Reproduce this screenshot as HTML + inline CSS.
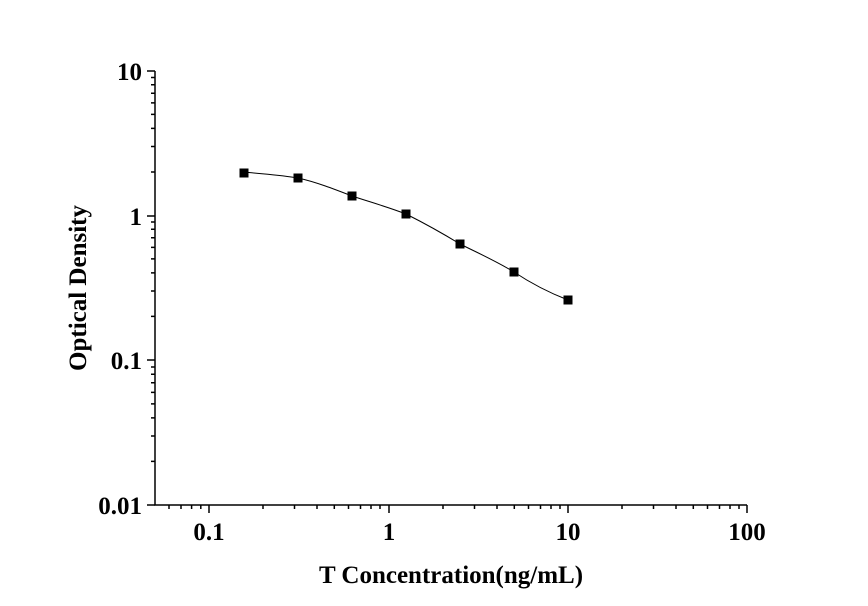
<!DOCTYPE html>
<html><head><meta charset="utf-8"><style>body{margin:0;background:#fff}svg{display:block}text{font-family:"Liberation Serif",serif;font-weight:bold;fill:#000}</style></head><body>
<svg width="868" height="606" viewBox="0 0 868 606">
<g stroke="#000" stroke-width="1.5" fill="none">
<path d="M155,71V505H747"/>
<path d="M155,71h-8M155,216h-8M155,360h-8M155,505h-8"/>
<path d="M155,461.4h-4M155,436h-4M155,417.9h-4M155,403.9h-4M155,392.4h-4M155,382.7h-4M155,374.3h-4M155,367h-4
M155,316.4h-4M155,291h-4M155,272.9h-4M155,258.9h-4M155,247.4h-4M155,237.7h-4M155,229.3h-4M155,222h-4
M155,172h-4M155,146.5h-4M155,128.4h-4M155,114.4h-4M155,102.9h-4M155,93.2h-4M155,84.8h-4M155,77.5h-4"/>
<path d="M209,505v8M389,505v8M568,505v8M747,505v8"/>
<path d="M169,505v4M181,505v4M191.6,505v4M200.8,505v4
M263,505v4M294.5,505v4M317,505v4M334.3,505v4M348.5,505v4M360.5,505v4M371,505v4M380,505v4
M443,505v4M474.5,505v4M497,505v4M514.3,505v4M528.5,505v4M540.5,505v4M551,505v4M560,505v4
M622,505v4M653.5,505v4M676,505v4M693.3,505v4M707.5,505v4M719.5,505v4M730,505v4M739,505v4"/>
<path stroke-width="1" d="M244,172C262,174 280,175 298,178C316,182 334,189 352,196C370,202 388,207 406,214C424,223 442,233 460,244C478,253 496,261 514,272C532,284 550,293 568,300"/>
</g>
<g fill="#000">
<rect x="239.5" y="168.5" width="9" height="9"/><rect x="293.5" y="173.5" width="9" height="9"/><rect x="347.5" y="191.5" width="9" height="9"/><rect x="401.5" y="209.5" width="9" height="9"/><rect x="455.5" y="239.5" width="9" height="9"/><rect x="509.5" y="267.5" width="9" height="9"/><rect x="563.5" y="295.5" width="9" height="9"/>
</g>
<g font-size="25" text-anchor="end">
<text x="142" y="80">10</text><text x="142" y="225">1</text><text x="142" y="369">0.1</text><text x="142" y="514">0.01</text>
</g>
<g font-size="25" text-anchor="middle">
<text x="209" y="540">0.1</text><text x="389" y="540">1</text><text x="568" y="540">10</text><text x="747" y="540">100</text>
</g>
<text x="451" y="583" font-size="25" text-anchor="middle">T Concentration(ng/mL)</text>
<text transform="translate(86,288) rotate(-90)" font-size="25" text-anchor="middle">Optical Density</text>
</svg>
</body></html>
